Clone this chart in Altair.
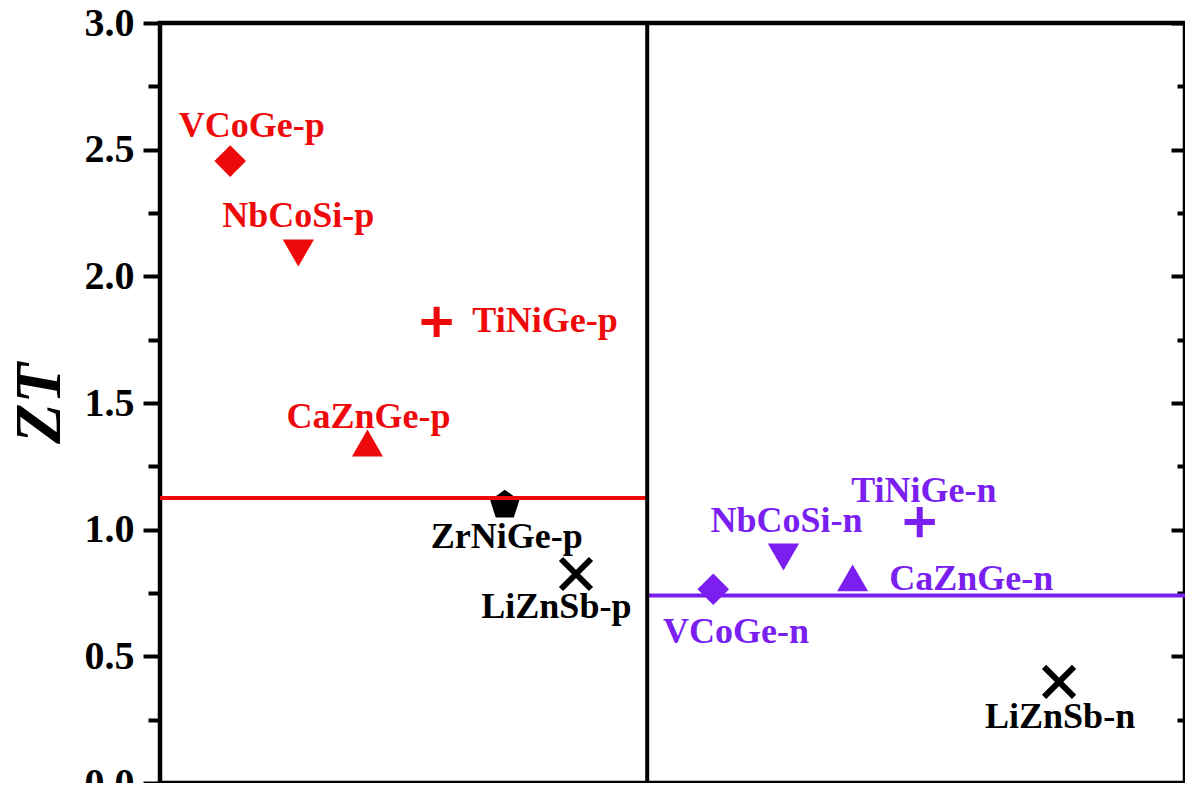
import altair as alt
import pandas as pd

# ---- data ----
names = ["VCoGe-p", "NbCoSi-p", "TiNiGe-p", "CaZnGe-p", "ZrNiGe-p", "LiZnSb-p",
         "VCoGe-n", "NbCoSi-n", "CaZnGe-n", "TiNiGe-n", "LiZnSb-n"]
xpos = [0.68, 1.34, 2.68, 2.01, 3.34, 4.03, 5.36, 6.04, 6.71, 7.36, 8.71]
zt = [2.455, 2.092, 1.82, 1.342, 1.097, 0.825, 0.765, 0.892, 0.81, 1.03, 0.399]
kind = ["p", "p", "p", "p", "ref", "ref", "n", "n", "n", "n", "ref"]
marker = ["diamond", "triangle-down", "plus", "triangle-up", "pentagon", "x",
          "diamond", "triangle-down", "triangle-up", "plus", "x"]
label_x = [0.89, 1.34, 3.73, 2.02, 3.36, 3.84, 5.58, 6.07, 7.86, 7.40, 8.72]
label_y = [2.55, 2.195, 1.78, 1.40, 0.928, 0.651, 0.553, 0.991, 0.762, 1.109, 0.217]

x_max = 9.93
divider = [4.72]
avg_kind = ["p", "n"]
avg_x1 = [0.0, 4.72]
avg_x2 = [4.72, x_max]
avg_zt = [1.125, 0.74]

major_ticks = [0.0, 0.5, 1.0, 1.5, 2.0, 2.5, 3.0]
minor_ticks = [0.25, 0.75, 1.25, 1.75, 2.25, 2.75]

# ---- styling ----
RED = "#ee0a0a"
PURPLE = "#7a1ff0"
FONT = "Liberation Serif"
PENT = "M0,-1L0.951,-0.309L0.588,0.809L-0.588,0.809L-0.951,-0.309Z"
PLUS = "M-1,0L1,0M0,-1L0,1"
XPATH = "M-1,-1L1,1M-1,1L1,-1"

pts = pd.DataFrame({"name": names, "x": xpos, "zt": zt, "kind": kind,
                    "marker": marker, "lx": label_x, "ly": label_y})
filled = pts[pts["marker"].isin(["diamond", "triangle-down", "triangle-up", "pentagon"])]
stroked = pts[pts["marker"].isin(["plus", "x"])]
avg = pd.DataFrame({"kind": avg_kind, "x1": avg_x1, "x2": avg_x2, "zt": avg_zt})
div = pd.DataFrame({"x": divider})

xs = alt.Scale(domain=[0, x_max], nice=False, zero=False)
ys = alt.Scale(domain=[0, 3], nice=False, zero=False)
color = alt.Color("kind:N", legend=None,
                  scale=alt.Scale(domain=["p", "n", "ref"], range=[RED, PURPLE, "black"]))
shape_dom = ["diamond", "triangle-down", "triangle-up", "pentagon", "plus", "x"]
shape = alt.Shape("marker:N", legend=None,
                  scale=alt.Scale(domain=shape_dom,
                                  range=["diamond", "triangle-down", "triangle-up", PENT, PLUS, XPATH]))
size = alt.Size("marker:N", legend=None,
                scale=alt.Scale(domain=shape_dom, range=[1000, 900, 900, 560, 520, 420]))

ax_left_major = alt.Axis(orient="left", values=major_ticks, format=".1f",
                         labelFont=FONT, labelFontWeight="bold", labelFontSize=40,
                         labelColor="black", labelPadding=9,
                         tickSize=17, tickWidth=4, tickColor="black", domain=False, grid=False,
                         title="ZT", titleFont=FONT, titleFontWeight="bold",
                         titleFontStyle="italic", titleFontSize=66, titleColor="black",
                         titlePadding=11)
ax_left_minor = alt.Axis(orient="left", values=minor_ticks, labels=False,
                         tickSize=12, tickWidth=4, tickColor="black",
                         domain=False, grid=False, title=None)
ax_right_major = alt.Axis(orient="right", values=major_ticks, labels=False, offset=-14,
                          tickSize=14, tickWidth=4, tickColor="black",
                          domain=False, grid=False, title=None)
ax_right_minor = alt.Axis(orient="right", values=minor_ticks, labels=False, offset=-8,
                          tickSize=8, tickWidth=4, tickColor="black",
                          domain=False, grid=False, title=None)

filled_layer = alt.Chart(filled).mark_point(filled=True, opacity=1).encode(
    x=alt.X("x:Q", scale=xs, axis=None),
    y=alt.Y("zt:Q", scale=ys, axis=ax_left_major),
    color=color, shape=shape, size=size,
)
stroked_layer = alt.Chart(stroked).mark_point(filled=False, opacity=1, strokeWidth=6).encode(
    x=alt.X("x:Q", scale=xs, axis=None),
    y=alt.Y("zt:Q", scale=ys, axis=ax_left_minor),
    color=color, shape=shape, size=size,
)
avg_layer = alt.Chart(avg).mark_rule(strokeWidth=4).encode(
    x=alt.X("x1:Q", scale=xs, axis=None),
    x2="x2:Q",
    y=alt.Y("zt:Q", scale=ys, axis=ax_right_minor),
    color=color,
)
div_layer = alt.Chart(div).mark_rule(strokeWidth=4, color="black").encode(
    x=alt.X("x:Q", scale=xs, axis=None),
)
text_layer = alt.Chart(pts).mark_text(font=FONT, fontSize=36, fontWeight="bold",
                                      baseline="alphabetic", align="center").encode(
    x=alt.X("lx:Q", scale=xs, axis=None),
    y=alt.Y("ly:Q", scale=ys, axis=ax_right_major),
    text="name:N",
    color=color,
)

chart = alt.layer(
    filled_layer, stroked_layer, avg_layer, div_layer, text_layer
).resolve_axis(y="independent").properties(
    width=1025, height=760,
    padding={"left": 152, "top": 15, "right": 0, "bottom": 0},
    autosize=alt.AutoSizeParams(type="none"),
    background="white",
).configure_view(stroke="black", strokeWidth=4.5)

chart.save("out.html", embed_options={"renderer": "svg", "actions": False})
